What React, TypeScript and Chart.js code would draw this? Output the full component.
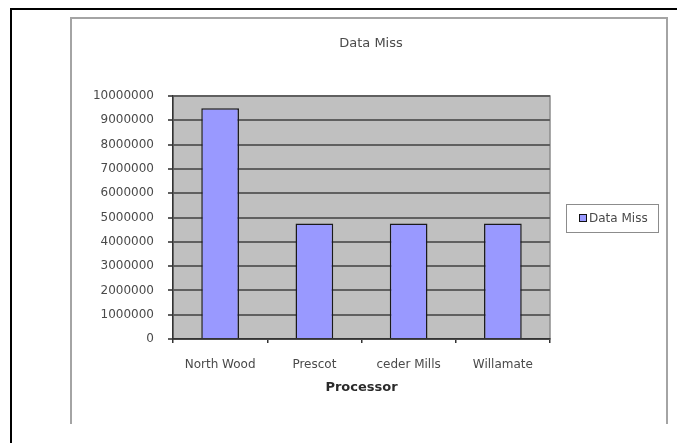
import React, { useEffect, useRef } from 'react';
import { Chart, registerables } from 'chart.js';

Chart.register(...registerables);

const categories = ['North Wood', 'Prescot', 'ceder Mills', 'Willamate'];
const dataMiss = [9500000, 4750000, 4750000, 4750000];
const yMin = 0;
const yMax = 10000000;
const yStep = 1000000;
const chartTitle = 'Data Miss';
const seriesLabel = 'Data Miss';
const xAxisTitle = 'Processor';

const FONT = '"DejaVu Sans", "Liberation Sans", sans-serif';
const TEXT = '#4a4a4a';
const BAR = '#9999FF';

const framePlugin = {
  id: 'frames',
  beforeDraw(chart: any) {
    const { ctx, chartArea } = chart;
    ctx.save();
    ctx.fillStyle = '#ffffff';
    ctx.fillRect(0, 0, chart.width, chart.height);
    // outer black frame (top and left only, runs off the picture)
    ctx.strokeStyle = '#000';
    ctx.lineWidth = 2;
    ctx.beginPath();
    ctx.moveTo(11, chart.height + 5);
    ctx.lineTo(11, 9);
    ctx.lineTo(chart.width + 5, 9);
    ctx.stroke();
    // inner grey chart frame (open at bottom)
    ctx.strokeStyle = '#a4a4a4';
    ctx.beginPath();
    ctx.moveTo(71, 424);
    ctx.lineTo(71, 18);
    ctx.lineTo(667, 18);
    ctx.lineTo(667, 424);
    ctx.stroke();
    if (chartArea) {
      ctx.fillStyle = '#C0C0C0';
      ctx.fillRect(chartArea.left, chartArea.top, chartArea.right - chartArea.left, chartArea.bottom - chartArea.top);
      ctx.strokeStyle = '#8c8c8c';
      ctx.lineWidth = 1.5;
      ctx.strokeRect(chartArea.left, chartArea.top, chartArea.right - chartArea.left, chartArea.bottom - chartArea.top);
    }
    ctx.restore();
  },
};

const decorPlugin = {
  id: 'decor',
  afterDraw(chart: any) {
    const { ctx } = chart;
    ctx.save();
    ctx.fillStyle = TEXT;
    ctx.font = `13px ${FONT}`;
    ctx.textAlign = 'center';
    ctx.textBaseline = 'middle';
    ctx.fillText(chartTitle, 371, 44);
    ctx.strokeStyle = '#8c8c8c';
    ctx.lineWidth = 1;
    ctx.strokeRect(566.5, 204.5, 92, 28);
    ctx.fillStyle = BAR;
    ctx.fillRect(579, 214, 8, 8);
    ctx.strokeStyle = '#111';
    ctx.strokeRect(579.5, 214.5, 7, 7);
    ctx.fillStyle = TEXT;
    ctx.font = `12px ${FONT}`;
    ctx.textAlign = 'left';
    ctx.fillText(chart.data.datasets[0].label, 589, 218.5);
    ctx.restore();
  },
};

export default function App() {
  const ref = useRef<HTMLCanvasElement | null>(null);

  useEffect(() => {
    if (!ref.current) return;
    const chart = new Chart(ref.current, {
      type: 'bar',
      data: {
        labels: categories,
        datasets: [
          {
            label: seriesLabel,
            data: dataMiss,
            backgroundColor: BAR,
            borderColor: '#1a1a1a',
            borderWidth: 1.5,
            borderSkipped: 'bottom',
            barPercentage: 0.4,
            categoryPercentage: 1,
          },
        ],
      },
      options: {
        animation: false,
        responsive: false,
        devicePixelRatio: 1,
        layout: { padding: { left: 0, top: 96, right: 127, bottom: 0 } },
        plugins: {
          legend: { display: false },
          title: { display: false },
          tooltip: { enabled: false },
        },
        scales: {
          x: {
            grid: {
              display: true,
              drawOnChartArea: false,
              drawTicks: true,
              tickLength: 4,
              color: '#333',
              lineWidth: 1.5,
            },
            border: { display: true, color: '#333', width: 1.5 },
            ticks: {
              color: TEXT,
              font: { family: FONT, size: 12 },
              padding: 15,
              maxRotation: 0,
              autoSkip: false,
            },
            title: {
              display: true,
              text: xAxisTitle,
              color: '#2a2a2a',
              font: { family: FONT, size: 13, weight: 'bold' },
              padding: { top: 0, bottom: 48 },
            },
            afterFit(scale: any) {
              scale.height = 104;
            },
          },
          y: {
            min: yMin,
            max: yMax,
            grid: {
              color: '#606060',
              lineWidth: 2,
              tickLength: 5,
              drawTicks: true,
            },
            border: { display: true, color: '#333', width: 1.5 },
            ticks: {
              stepSize: yStep,
              color: TEXT,
              font: { family: FONT, size: 12 },
              padding: 14,
              callback: (v: any) => String(v),
            },
            afterFit(scale: any) {
              scale.width = 173;
            },
          },
        },
      },
      plugins: [framePlugin, decorPlugin],
    } as any);
    return () => chart.destroy();
  }, []);

  return (
    <div
      style={{
        position: 'fixed',
        left: 0,
        top: 0,
        width: 677,
        height: 443,
        background: '#fff',
        overflow: 'hidden',
      }}
    >
      <canvas
        ref={ref}
        width={677}
        height={443}
        style={{ position: 'absolute', left: 0, top: 0, width: 677, height: 443, display: 'block' }}
      />
    </div>
  );
}
